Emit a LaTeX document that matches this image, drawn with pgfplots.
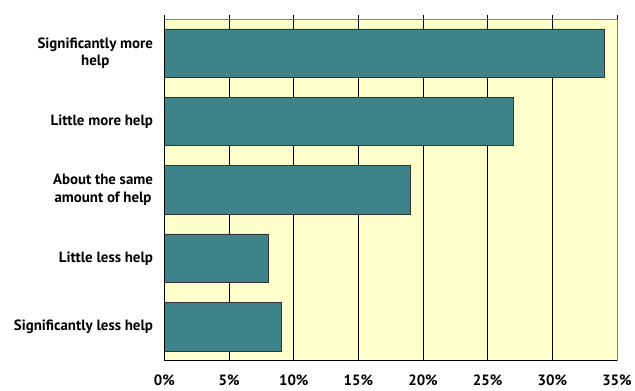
\documentclass[border=0pt]{standalone}
\usepackage{fontspec}
\setmainfont{PT Sans}
\usepackage{pgfplots}
\pgfplotsset{compat=1.18}
\definecolor{barteal}{RGB}{62,131,137}
\definecolor{bgyel}{RGB}{255,255,204}
\begin{document}
\begin{tikzpicture}
\begin{axis}[
  scale only axis,
  width=454bp, height=343bp,
  xmin=0, xmax=35,
  ymin=-0.5, ymax=4.5,
  y dir=reverse,
  axis background/.style={fill=bgyel},
  axis line style={draw=gray, line width=0.8pt},
  xtick={0,5,...,35},
  xtick pos=upper,
  xticklabel pos=lower,
  tick align=outside,
  major tick length=4bp,
  xticklabel={\pgfmathprintnumber{\tick}\%},
  xticklabel style={font=\bfseries\fontsize{15}{17}\selectfont, yshift=-7bp},
  xmajorgrids,
  major grid style={draw=black, line width=0.6pt},
  ytick={0,1,2,3,4},
  yticklabels={{Significantly more\\help},{Little more help},{About the same\\amount of help},{Little less help},{Significantly less help}},
  yticklabel style={font=\bfseries\fontsize{15}{18}\selectfont, align=center, xshift=-4bp},
  ytick style={draw=none},
  extra y ticks={-0.5,0.5,1.5,2.5,3.5,4.5},
  extra y tick labels={},
  extra y tick style={tick style={draw=black, line width=0.6pt}, major tick length=4bp},
  x tick style={draw=black, line width=0.6pt},
  /pgf/number format/assume math mode=true,
  xbar,
  bar width=0.71,
  after end axis/.code={
    \draw[black, line width=0.8pt] (rel axis cs:0,0) -- (rel axis cs:0,1);
    \draw[black, line width=0.8pt] (rel axis cs:0,0) -- (rel axis cs:1,0);
  },
]
\addplot[fill=barteal, draw=black!80, line width=0.6pt] coordinates {(34,0) (27,1) (19,2) (8,3) (9,4)};
\end{axis}
\path (current axis.south west) ++(-165bp,-30bp) rectangle ++(635bp,392bp);
\end{tikzpicture}
\end{document}
